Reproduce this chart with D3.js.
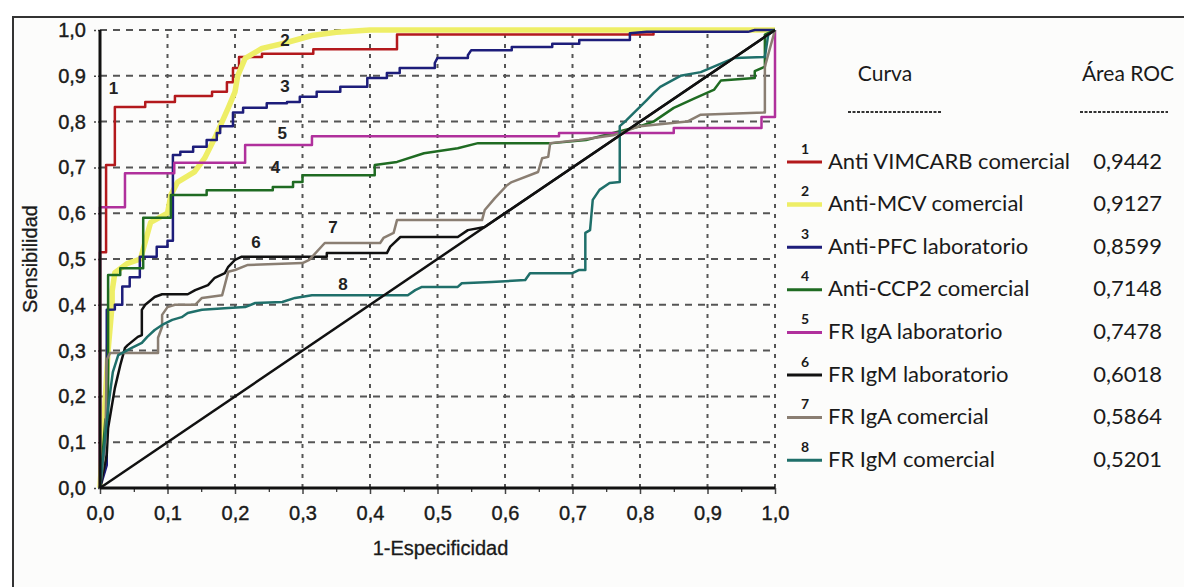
<!DOCTYPE html>
<html>
<head>
<meta charset="utf-8">
<script src="https://cdn.jsdelivr.net/npm/d3@7"></script>
<style>
  body { margin: 0; background: #fff; }
  svg { display: block; }
</style>
</head>
<body>
<section id="grafico"></section>
<script>

// curvas ROC: [1-especificidad, sensibilidad]
const curva1 = [[0,0],[0,0.515],[0.009,0.515],[0.009,0.705],[0.022,0.705],[0.022,0.832],[0.067,0.832],[0.067,0.843],[0.111,0.843],[0.111,0.856],[0.166,0.856],[0.166,0.865],[0.188,0.865],[0.188,0.886],[0.197,0.886],[0.197,0.917],[0.206,0.917],[0.206,0.941],[0.24,0.941],[0.24,0.948],[0.316,0.948],[0.316,0.958],[0.44,0.958],[0.44,0.99],[0.82,0.99],[0.82,1],[1,1]];
const curva2 = [[0,0],[0.012,0.3],[0.018,0.4],[0.018,0.43],[0.022,0.47],[0.04,0.49],[0.06,0.5],[0.075,0.58],[0.1,0.6],[0.105,0.64],[0.115,0.668],[0.14,0.69],[0.155,0.72],[0.17,0.764],[0.178,0.79],[0.19,0.83],[0.2,0.865],[0.204,0.9],[0.215,0.938],[0.24,0.96],[0.27,0.97],[0.314,0.988],[0.35,0.995],[0.4,1],[1,1]];
const curva3 = [[0,0],[0.01,0.05],[0.01,0.389],[0.022,0.39],[0.022,0.4],[0.033,0.4],[0.033,0.44],[0.044,0.44],[0.044,0.46],[0.059,0.46],[0.059,0.505],[0.084,0.505],[0.084,0.527],[0.1,0.527],[0.1,0.54],[0.108,0.54],[0.108,0.727],[0.119,0.727],[0.119,0.734],[0.138,0.734],[0.138,0.745],[0.158,0.745],[0.158,0.76],[0.173,0.76],[0.173,0.775],[0.178,0.775],[0.178,0.79],[0.197,0.79],[0.197,0.82],[0.212,0.82],[0.212,0.83],[0.247,0.83],[0.247,0.84],[0.277,0.84],[0.277,0.843],[0.296,0.843],[0.296,0.854],[0.321,0.854],[0.321,0.865],[0.356,0.865],[0.356,0.876],[0.396,0.876],[0.396,0.895],[0.425,0.895],[0.425,0.906],[0.444,0.906],[0.444,0.917],[0.496,0.917],[0.496,0.928],[0.5,0.939],[0.545,0.939],[0.545,0.945],[0.55,0.956],[0.61,0.956],[0.61,0.963],[0.67,0.963],[0.67,0.97],[0.71,0.97],[0.71,0.978],[0.785,0.978],[0.785,0.993],[0.81,0.996],[0.96,0.996],[0.97,1],[1,1]];
const curva4 = [[0,0],[0.008,0.15],[0.012,0.15],[0.012,0.465],[0.03,0.465],[0.03,0.48],[0.064,0.48],[0.064,0.59],[0.105,0.59],[0.105,0.64],[0.158,0.64],[0.158,0.65],[0.256,0.65],[0.256,0.657],[0.286,0.657],[0.286,0.668],[0.3,0.668],[0.3,0.683],[0.407,0.683],[0.407,0.705],[0.44,0.712],[0.48,0.731],[0.53,0.742],[0.56,0.753],[0.67,0.753],[0.72,0.76],[0.76,0.775],[0.8,0.79],[0.82,0.8],[0.85,0.83],[0.88,0.85],[0.91,0.87],[0.92,0.89],[0.97,0.895],[0.97,0.91],[0.985,0.92],[0.985,0.99],[1,1]];
const curva5 = [[0,0],[0,0.613],[0.037,0.613],[0.037,0.687],[0.11,0.687],[0.11,0.71],[0.215,0.71],[0.215,0.749],[0.314,0.749],[0.314,0.768],[0.68,0.768],[0.68,0.775],[0.85,0.775],[0.85,0.786],[0.98,0.786],[0.98,0.81],[1,0.81],[1,1]];
const curva6 = [[0,0],[0.01,0.072],[0.012,0.131],[0.022,0.218],[0.03,0.268],[0.037,0.306],[0.041,0.312],[0.056,0.33],[0.062,0.334],[0.062,0.389],[0.067,0.4],[0.081,0.417],[0.092,0.423],[0.13,0.423],[0.141,0.432],[0.16,0.443],[0.17,0.459],[0.185,0.469],[0.19,0.483],[0.2,0.498],[0.21,0.505],[0.336,0.505],[0.336,0.513],[0.425,0.513],[0.43,0.527],[0.445,0.548],[0.53,0.548],[0.545,0.563],[0.57,0.57],[1,1]];
const curva7 = [[0,0],[0.008,0.1],[0.01,0.28],[0.015,0.295],[0.086,0.295],[0.086,0.328],[0.092,0.352],[0.092,0.378],[0.1,0.395],[0.111,0.4],[0.141,0.4],[0.151,0.415],[0.181,0.421],[0.19,0.472],[0.2,0.476],[0.219,0.487],[0.3,0.491],[0.31,0.498],[0.333,0.535],[0.415,0.535],[0.42,0.546],[0.435,0.557],[0.44,0.585],[0.566,0.585],[0.57,0.607],[0.585,0.633],[0.603,0.661],[0.61,0.668],[0.649,0.69],[0.655,0.72],[0.664,0.723],[0.667,0.753],[0.71,0.76],[0.76,0.77],[0.8,0.79],[0.87,0.8],[0.89,0.815],[0.985,0.82],[0.985,0.92],[1,1]];
const curva8 = [[0,0],[0.012,0.175],[0.019,0.253],[0.027,0.29],[0.047,0.306],[0.062,0.317],[0.07,0.33],[0.081,0.345],[0.092,0.356],[0.107,0.367],[0.121,0.373],[0.13,0.382],[0.151,0.389],[0.19,0.393],[0.215,0.395],[0.23,0.404],[0.27,0.406],[0.289,0.415],[0.314,0.421],[0.456,0.421],[0.467,0.432],[0.477,0.439],[0.53,0.439],[0.536,0.447],[0.58,0.45],[0.63,0.454],[0.637,0.469],[0.7,0.469],[0.71,0.476],[0.719,0.476],[0.719,0.557],[0.726,0.563],[0.73,0.629],[0.74,0.651],[0.755,0.666],[0.77,0.668],[0.77,0.79],[0.78,0.803],[0.795,0.825],[0.81,0.847],[0.82,0.862],[0.83,0.876],[0.86,0.9],[0.89,0.908],[0.94,0.939],[0.985,0.941],[0.99,0.99],[1,1]];
const diagonal = [[0,0],[1,1]];

const nombres = ["Anti VIMCARB comercial","Anti-MCV comercial","Anti-PFC laboratorio","Anti-CCP2 comercial","FR IgA laboratorio","FR IgM laboratorio","FR IgA comercial","FR IgM comercial"];
const areas = ["0,9442","0,9127","0,8599","0,7148","0,7478","0,6018","0,5864","0,5201"];
const colores = ["#b3191c","#eeee66","#1d1d7a","#1f6b22","#b0309c","#111111","#8a7e72","#1f6f6a"];
const grosor = [2.5,5.5,2.5,2.5,2.5,2.5,2.5,2.5];
// posicion de los numeros dentro del grafico (en unidades de los ejes)
const etiquetas = [[0.02,0.873],[0.274,0.978],[0.274,0.876],[0.26,0.70],[0.27,0.775],[0.231,0.537],[0.345,0.568],[0.36,0.445]];
const ticks = [0,0.1,0.2,0.3,0.4,0.5,0.6,0.7,0.8,0.9,1];

const curvas = [curva1,curva2,curva3,curva4,curva5,curva6,curva7,curva8];

const width = 1184;
const height = 587;
const x0 = 100, x1 = 775;
const y0 = 488, y1 = 30;
const fuenteEjes = "'Liberation Sans', Arial, sans-serif";

const svg = d3.select("section#grafico")
    .append("svg")
    .attr("width", width)
    .attr("height", height);

// marco
svg.append("rect")
    .attr("x", 13).attr("y", 17)
    .attr("width", width).attr("height", height)
    .attr("fill", "#fcfcfb")
    .attr("stroke", "#333")
    .attr("stroke-width", 2);

const xScale = d3.scaleLinear().domain([0, 1]).range([x0, x1]);
const yScale = d3.scaleLinear().domain([0, 1]).range([y0, y1]);

const coma = d => d3.format(".1f")(d).replace(".", ",");

// rejilla
svg.append("g")
    .selectAll("line")
    .data(ticks.slice(1))
    .enter()
    .append("line")
    .attr("x1", x0).attr("x2", x1)
    .attr("y1", d => yScale(d)).attr("y2", d => yScale(d))
    .attr("stroke", "#555")
    .attr("stroke-width", 2)
    .attr("stroke-dasharray", "7,6");

svg.append("g")
    .selectAll("line")
    .data(ticks.slice(1))
    .enter()
    .append("line")
    .attr("x1", d => xScale(d)).attr("x2", d => xScale(d))
    .attr("y1", y0).attr("y2", y1)
    .attr("stroke", "#555")
    .attr("stroke-width", 2)
    .attr("stroke-dasharray", "4,6");

// ejes
const xAxis = d3.axisBottom(xScale).tickValues(ticks).tickFormat(coma).tickSize(6).tickPadding(12);
const yAxis = d3.axisLeft(yScale).tickValues(ticks).tickFormat(coma).tickSize(7).tickPadding(7);

const gx = svg.append("g")
    .attr("transform", `translate(0,${y0})`)
    .call(xAxis);
const gy = svg.append("g")
    .attr("transform", `translate(${x0},0)`)
    .call(yAxis);

svg.append("g")
    .attr("transform", `translate(0,${y0})`)
    .call(d3.axisBottom(xScale).tickValues(d3.range(0.05, 1, 0.1)).tickFormat("").tickSize(4))
    .select(".domain").remove();

[gx, gy].forEach(g => {
    g.selectAll("text")
        .style("font-family", fuenteEjes)
        .style("font-size", "20px")
        .attr("fill", "#1a1a1a")
        .attr("stroke", "#1a1a1a")
        .attr("stroke-width", 0.4);
    g.selectAll(".tick line").attr("stroke", "#444").attr("stroke-width", 1.5);
});
gy.selectAll(".tick line").attr("stroke-dasharray", "2,2");

// curvas
const line = d3.line()
    .x(d => xScale(d[0]))
    .y(d => yScale(d[1]));

const orden = [0,1,2,3,4,5,6,7];
svg.append("g")
    .selectAll("path")
    .data(orden)
    .enter()
    .append("path")
    .attr("d", i => line(curvas[i]))
    .attr("fill", "none")
    .attr("stroke", i => colores[i])
    .attr("stroke-width", i => grosor[i])
    .attr("stroke-linejoin", "round");

svg.append("path")
    .attr("d", line(diagonal))
    .attr("fill", "none")
    .attr("stroke", "#111")
    .attr("stroke-width", 2.5);

// lineas de ejes encima
svg.append("line")
    .attr("x1", x0).attr("x2", x1).attr("y1", y0).attr("y2", y0)
    .attr("stroke", "#111").attr("stroke-width", 3);
svg.append("line")
    .attr("x1", x0).attr("x2", x0).attr("y1", y0).attr("y2", y1)
    .attr("stroke", "#111").attr("stroke-width", 3);
gx.select(".domain").remove();
gy.select(".domain").remove();

// numeros de las curvas
svg.append("g")
    .selectAll("text")
    .data(etiquetas)
    .enter()
    .append("text")
    .attr("x", d => xScale(d[0]))
    .attr("y", d => yScale(d[1]))
    .attr("text-anchor", "middle")
    .attr("dominant-baseline", "central")
    .style("font-family", fuenteEjes)
    .style("font-size", "17px")
    .style("font-weight", "bold")
    .attr("fill", "#222")
    .text((d, i) => i + 1);

// titulos de ejes
svg.append("text")
    .attr("x", (x0 + x1) / 2 + 3)
    .attr("y", 548)
    .attr("text-anchor", "middle")
    .attr("dominant-baseline", "central")
    .style("font-family", fuenteEjes)
    .style("font-size", "20px")
    .attr("fill", "#1a1a1a")
    .attr("stroke", "#1a1a1a")
    .attr("stroke-width", 0.3)
    .text("1-Especificidad");

svg.append("text")
    .attr("transform", `translate(30,${(y0 + y1) / 2}) rotate(-90)`)
    .attr("text-anchor", "middle")
    .attr("dominant-baseline", "central")
    .style("font-family", fuenteEjes)
    .style("font-size", "20px")
    .attr("fill", "#1a1a1a")
    .attr("stroke", "#1a1a1a")
    .attr("stroke-width", 0.3)
    .text("Sensibilidad");

// leyenda
const leyenda = svg.append("g")
    .style("font-family", "Lato, 'Open Sans', sans-serif")
    .attr("fill", "#1a1a1a");
const fila0 = 160, paso = 42.6;

leyenda.append("text").attr("x", 885).attr("y", 72)
    .attr("text-anchor", "middle").attr("dominant-baseline", "central")
    .style("font-size", "21px").text("Curva");
leyenda.append("text").attr("x", 1128).attr("y", 72)
    .attr("text-anchor", "middle").attr("dominant-baseline", "central")
    .style("font-size", "21px").text("Área ROC");
leyenda.append("line").attr("x1", 848).attr("x2", 942).attr("y1", 112).attr("y2", 112)
    .attr("stroke", "#333").attr("stroke-width", 2).attr("stroke-dasharray", "3,1.5");
leyenda.append("line").attr("x1", 1080).attr("x2", 1168).attr("y1", 112).attr("y2", 112)
    .attr("stroke", "#333").attr("stroke-width", 2).attr("stroke-dasharray", "3,1.5");

const filas = leyenda.selectAll("g.fila")
    .data(nombres)
    .enter()
    .append("g")
    .attr("class", "fila")
    .attr("transform", (d, i) => `translate(0,${fila0 + i * paso})`);

filas.append("line")
    .attr("x1", 787).attr("x2", 822).attr("y1", 2).attr("y2", 2)
    .attr("stroke", (d, i) => colores[i])
    .attr("stroke-width", (d, i) => i == 1 ? 4.5 : 3);
filas.append("text")
    .attr("x", 805).attr("y", -12)
    .attr("text-anchor", "middle").attr("dominant-baseline", "central")
    .style("font-size", "14px").style("font-weight", "bold")
    .text((d, i) => i + 1);
filas.append("text")
    .attr("x", 828).attr("y", 0)
    .attr("dominant-baseline", "central")
    .style("font-size", "22px")
    .text(d => d);
filas.append("text")
    .attr("x", 1162).attr("y", 0)
    .attr("text-anchor", "end")
    .attr("dominant-baseline", "central")
    .style("font-size", "22px")
    .text((d, i) => areas[i]);

</script>
</body>
</html>
